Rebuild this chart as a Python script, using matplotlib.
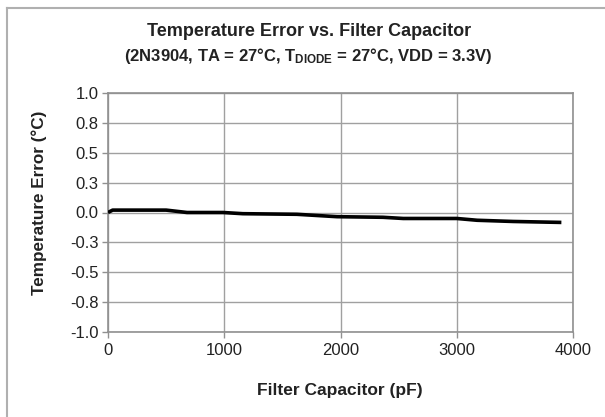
import matplotlib
matplotlib.use("Agg")
import matplotlib.pyplot as plt
from matplotlib.lines import Line2D

plt.rcParams['font.family'] = ['Liberation Sans', 'DejaVu Sans']
plt.rcParams['mathtext.fontset'] = 'custom'
plt.rcParams['mathtext.rm'] = 'Liberation Sans:bold'
plt.rcParams['mathtext.it'] = 'Liberation Sans:bold'
plt.rcParams['mathtext.bf'] = 'Liberation Sans:bold'

# Data
capacitance_pf = [0, 40, 200, 500, 680, 990, 1160, 1625, 1970, 2365, 2540, 3000, 3175, 3485, 3900]
temp_error_c = [0.0, 0.02, 0.02, 0.02, 0.0, 0.0, -0.01, -0.015, -0.035, -0.04, -0.05, -0.05, -0.065, -0.075, -0.083]

x_ticks = [0, 1000, 2000, 3000, 4000]
x_tick_labels = ['0', '1000', '2000', '3000', '4000']
y_ticks = [1.0, 0.75, 0.5, 0.25, 0.0, -0.25, -0.5, -0.75, -1.0]
y_tick_labels = ['1.0', '0.8', '0.5', '0.3', '0.0', '-0.3', '-0.5', '-0.8', '-1.0']

title_line1 = 'Temperature Error vs. Filter Capacitor'
title_line2 = r'(2N3904, TA = 27°C, T$_{\mathrm{DIODE}}$ = 27°C, VDD = 3.3V)'
x_label = 'Filter Capacitor (pF)'
y_label = 'Temperature Error (°C)'

W, H = 605, 417
fig = plt.figure(figsize=(W / 100, H / 100), dpi=100)
fig.patch.set_facecolor('white')

# outer frame (top and left visible)
fig.add_artist(Line2D([7 / W, 1.0], [1 - 8 / H, 1 - 8 / H], color='#b0b0b0', lw=1.5, transform=fig.transFigure))
fig.add_artist(Line2D([7 / W, 7 / W], [1 - 8 / H, 0], color='#b0b0b0', lw=1.5, transform=fig.transFigure))

L, R, T, B = 108, 573, 93, 332
ax = fig.add_axes([L / W, 1 - B / H, (R - L) / W, (B - T) / H])
ax.plot(capacitance_pf, temp_error_c, color='black', lw=2.6, solid_capstyle='butt', zorder=3)

ax.set_xlim(0, 4000)
ax.set_ylim(-1.0, 1.0)
ax.set_xticks(x_ticks)
ax.set_xticklabels(x_tick_labels)
ax.set_yticks(y_ticks)
ax.set_yticklabels(y_tick_labels)
ax.grid(True, color='#a0a0a0', lw=1.0, zorder=1)
for s in ax.spines.values():
    s.set_color('#909090')
    s.set_linewidth(1.2)
ax.tick_params(axis='both', direction='out', length=4, width=1, color='#909090',
               labelsize=12, labelcolor='#222222', pad=3)
ax.tick_params(axis='x', pad=4)

ax.set_xlabel(x_label, fontsize=12.5, fontweight='bold', color='#222222', va='center')
ax.xaxis.set_label_coords((340 - L) / (R - L), (B - 390) / (B - T))
ax.set_ylabel(y_label, fontsize=12.3, fontweight='bold', color='#222222', va='center')
ax.yaxis.set_label_coords((39 - L) / (R - L), (B - 203) / (B - T))

fig.text(309 / W, 1 - 31 / H, title_line1, ha='center', va='center',
         fontsize=13, fontweight='bold', color='#222222')
fig.text(308 / W, 1 - 56.5 / H, title_line2, ha='center', va='center',
         fontsize=12, fontweight='bold', color='#222222')

fig.savefig('out.png', dpi=100)
